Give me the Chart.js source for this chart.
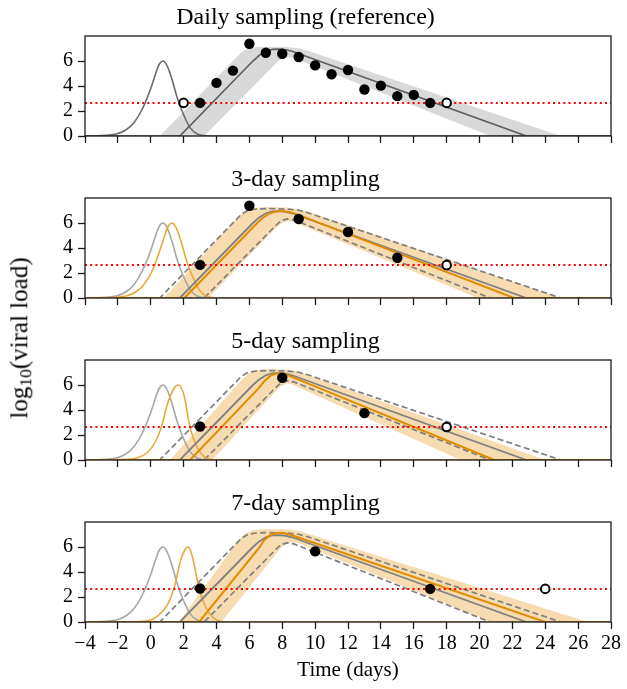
<!DOCTYPE html>
<html>
<head>
<meta charset="utf-8">
<script src="https://cdn.jsdelivr.net/npm/chart.js@4.4.1/dist/chart.umd.min.js"></script>
<style>
  body { margin: 0; background: #fff; }
  #wrap { position: relative; width: 627px; height: 689px; font-family: 'Liberation Serif', serif; }
  canvas { position: absolute; left: 0; }
  #ylab { position: absolute; left: 21px; top: 338px; transform: translate(-50%, -50%) rotate(-90deg);
          font-size: 25px; white-space: nowrap; color: #000; }
  #ylab sub { font-size: 0.7em; vertical-align: -0.25em; }
</style>
</head>
<body>
<div id="wrap">
  <canvas id="p1" width="627" height="146" style="top:0px"></canvas>
  <canvas id="p2" width="627" height="146" style="top:162px"></canvas>
  <canvas id="p3" width="627" height="146" style="top:324px"></canvas>
  <canvas id="p4" width="627" height="203" style="top:486px"></canvas>
  <div id="ylab">log<sub>10</sub>(viral load)</div>
</div>
<script>
const FONT = "'Liberation Serif', 'Times New Roman', serif";

const titles = ['Daily sampling (reference)', '3-day sampling', '5-day sampling', '7-day sampling'];
const xTicks = [-4, -2, 0, 2, 4, 6, 8, 10, 12, 14, 16, 18, 20, 22, 24, 26, 28];
const yTicks = [0, 2, 4, 6];
const LOD = 2.65;

// observed samples
const filledDays1 = [3, 4, 5, 6, 7, 8, 9, 10, 11, 12, 13, 14, 15, 16, 17];
const filledVals1 = [2.65, 4.25, 5.23, 7.38, 6.66, 6.58, 6.32, 5.65, 4.94, 5.28, 3.72, 4.03, 3.19, 3.29, 2.65];
const openDays1 = [2, 18];
const openVals1 = [2.65, 2.65];
const filledDays2 = [3, 6, 9, 12, 15];
const filledVals2 = [2.65, 7.38, 6.32, 5.28, 3.22];
const openDays2 = [18];
const openVals2 = [2.63];
const filledDays3 = [3, 8, 13];
const filledVals3 = [2.68, 6.58, 3.75];
const openDays3 = [18];
const openVals3 = [2.64];
const filledDays4 = [3, 10, 17];
const filledVals4 = [2.68, 5.65, 2.65];
const openDays4 = [24];
const openVals4 = [2.65];

// reference fit (daily sampling)
const refIncDays = [-4, -3, -2.5, -2, -1.5, -1, -0.5, 0, 0.3, 0.5, 0.75, 1.0, 1.3, 1.6, 2.0, 2.4, 2.8, 3.2, 3.6, 28];
const refIncVals = [0, 0.03, 0.08, 0.2, 0.5, 1.1, 2.2, 3.8, 5.0, 5.7, 6.0, 5.6, 4.5, 3.1, 1.7, 0.65, 0.18, 0.03, 0, 0];
const refLineDays = [-4, 1.77, 6.2, 6.6, 7.0, 7.4, 7.8, 8.2, 8.6, 22.85, 28];
const refLineVals = [0, 0, 5.98, 6.45, 6.78, 6.93, 6.95, 6.9, 6.78, 0, 0];
const refHiDays = [-4, 0.55, 5.5, 5.9, 6.4, 7.2, 8.2, 9.0, 9.6, 24.95, 28];
const refHiVals = [0, 0, 6.68, 7.0, 7.12, 7.15, 7.12, 7.02, 6.8, 0, 0];
const refLoDays = [-4, 3.25, 7.6, 7.95, 8.3, 8.7, 20.65, 28];
const refLoVals = [0, 0, 5.79, 6.2, 6.33, 6.25, 0, 0];

// 3-day fit
const inc2Days = [-4, -2.4, -1.9, -1.4, -0.9, -0.4, 0.1, 0.55, 0.85, 1.05, 1.3, 1.55, 1.85, 2.15, 2.55, 2.95, 3.35, 3.75, 4.15, 28];
const inc2Vals = [0, 0.03, 0.08, 0.2, 0.5, 1.1, 2.2, 3.8, 5.0, 5.7, 6.0, 5.6, 4.5, 3.1, 1.7, 0.65, 0.18, 0.03, 0, 0];
const line2Days = [-4, 2.05, 6.4, 6.8, 7.2, 7.6, 8.0, 8.4, 8.8, 22.1, 28];
const line2Vals = [0, 0, 5.9, 6.4, 6.75, 6.92, 6.95, 6.88, 6.75, 0, 0];
const hi2Days = [-4, 0.8, 5.4, 5.8, 6.3, 7.2, 8.2, 9.0, 9.6, 24.9, 28];
const hi2Vals = [0, 0, 6.6, 7.0, 7.2, 7.28, 7.25, 7.12, 6.9, 0, 0];
const lo2Days = [-4, 3.5, 7.6, 8.0, 8.35, 8.7, 19.9, 28];
const lo2Vals = [0, 0, 5.6, 6.0, 6.15, 6.08, 0, 0];

// 5-day fit
const inc3Days = [-4, -2, -0.8, -0.2, 0.3, 0.65, 1.0, 1.4, 1.68, 2.02, 2.38, 2.83, 3.23, 3.74, 28];
const inc3Vals = [0, 0.03, 0.18, 0.6, 1.5, 2.65, 4.4, 5.7, 6.0, 5.2, 2.65, 1.0, 0.3, 0.02, 0];
const line3Days = [-4, 2.39, 6.5, 6.9, 7.3, 7.7, 8.0, 8.4, 20.9, 28];
const line3Vals = [0, 0, 5.65, 6.3, 6.75, 6.93, 6.92, 6.75, 0, 0];
const hi3Days = [-4, 1.17, 5.6, 6.0, 6.5, 7.3, 8.2, 8.9, 9.5, 24.0, 28];
const hi3Vals = [0, 0, 6.5, 6.95, 7.2, 7.3, 7.25, 7.1, 6.85, 0, 0];
const lo3Days = [-4, 3.74, 7.6, 7.95, 8.3, 8.6, 18.85, 28];
const lo3Vals = [0, 0, 5.5, 5.95, 6.15, 6.05, 0, 0];

// 7-day fit
const inc4Days = [-4, -1, 0, 0.5, 1.0, 1.41, 1.82, 2.05, 2.26, 2.45, 2.63, 2.93, 3.33, 3.74, 4.24, 4.65, 28];
const inc4Vals = [0, 0.02, 0.16, 0.56, 1.35, 2.68, 4.93, 5.7, 6.0, 5.6, 4.67, 2.68, 1.22, 0.42, 0.05, 0, 0];
const line4Days = [-4, 2.94, 6.6, 6.9, 7.3, 7.7, 8.1, 8.5, 24.0, 28];
const line4Vals = [0, 0, 5.95, 6.55, 6.98, 7.13, 7.12, 6.98, 0, 0];
const hi4Days = [-4, 1.72, 5.3, 5.7, 6.2, 7.0, 8.2, 9.0, 9.6, 26.6, 28];
const hi4Vals = [0, 0, 6.5, 7.05, 7.35, 7.45, 7.42, 7.28, 7.05, 0, 0];
const lo4Days = [-4, 4.3, 7.9, 8.3, 8.6, 9.0, 20.7, 28];
const lo4Vals = [0, 0, 5.9, 6.3, 6.38, 6.3, 0, 0];

const xy = (ds, vs) => ds.map((d, i) => ({ x: d, y: vs[i] }));

function curve(data, color, width, order, extra) {
  return Object.assign({ data, borderColor: color, backgroundColor: color, borderWidth: width,
    pointRadius: 0, fill: false, tension: 0, order }, extra || {});
}
function lodLine() {
  return curve(xy([-4, 28], [LOD, LOD]), '#ff0000', 2, 2, { borderDash: [2, 3.2] });
}
function dots(fd, fv, od, ov) {
  return [
    { data: xy(fd, fv), showLine: false, pointRadius: 5.2, pointBackgroundColor: '#000',
      pointBorderColor: '#000', pointBorderWidth: 0, order: 1, clip: false },
    { data: xy(od, ov), showLine: false, pointRadius: 4.3, pointBackgroundColor: '#fff',
      pointBorderColor: '#000', pointBorderWidth: 2, order: 0, clip: false }
  ];
}
function band(loD, loV, hiD, hiV, color) {
  return [
    curve(xy(loD, loV), 'rgba(0,0,0,0)', 0, 11),
    curve(xy(hiD, hiV), 'rgba(0,0,0,0)', 0, 10, { fill: '-1', backgroundColor: color })
  ];
}

const mono = { cubicInterpolationMode: 'monotone' };
const ORANGE = '#e08b00';
const ORANGE_INC = '#e9a73c';
const BANDO = '#f6dcb0';

function fitDatasets(incD, incV, lineD, lineV, hiD, hiV, loD, loV, fd, fv, od, ov) {
  return [
    ...band(loD, loV, hiD, hiV, BANDO),
    curve(xy(refHiDays, refHiVals), '#7f7f7f', 1.7, 8, { borderDash: [6, 3.2] }),
    curve(xy(refLoDays, refLoVals), '#7f7f7f', 1.7, 8, { borderDash: [6, 3.2] }),
    curve(xy(refIncDays, refIncVals), '#a6a6a6', 1.6, 7, mono),
    curve(xy(incD, incV), ORANGE_INC, 1.6, 6, mono),
    curve(xy(refLineDays, refLineVals), '#808080', 1.8, 5),
    curve(xy(lineD, lineV), ORANGE, 2, 4),
    lodLine(),
    ...dots(fd, fv, od, ov)
  ];
}

const panels = [
  [
    ...band(refLoDays, refLoVals, refHiDays, refHiVals, '#d9d9d9'),
    curve(xy(refIncDays, refIncVals), '#6b6b6b', 1.6, 7, mono),
    curve(xy(refLineDays, refLineVals), '#5e5e5e', 1.7, 5),
    lodLine(),
    ...dots(filledDays1, filledVals1, openDays1, openVals1)
  ],
  fitDatasets(inc2Days, inc2Vals, line2Days, line2Vals, hi2Days, hi2Vals, lo2Days, lo2Vals,
    filledDays2, filledVals2, openDays2, openVals2),
  fitDatasets(inc3Days, inc3Vals, line3Days, line3Vals, hi3Days, hi3Vals, lo3Days, lo3Vals,
    filledDays3, filledVals3, openDays3, openVals3),
  fitDatasets(inc4Days, inc4Vals, line4Days, line4Vals, hi4Days, hi4Vals, lo4Days, lo4Vals,
    filledDays4, filledVals4, openDays4, openVals4)
];

const framePlugin = {
  id: 'frame',
  afterDatasetsDraw(chart) {
    const { ctx, chartArea: a } = chart;
    ctx.save();
    ctx.strokeStyle = '#1a1a1a';
    ctx.lineWidth = 1.3;
    ctx.strokeRect(a.left, a.top, a.right - a.left, a.bottom - a.top);
    ctx.restore();
  }
};

panels.forEach((datasets, i) => {
  const last = i === 3;
  new Chart(document.getElementById('p' + (i + 1)), {
    type: 'line',
    data: { datasets },
    options: {
      responsive: false,
      animation: false,
      devicePixelRatio: 1,
      layout: { padding: { left: 0, right: 16, top: 0, bottom: 0 } },
      plugins: {
        legend: { display: false },
        tooltip: { enabled: false },
        title: {
          display: true, text: titles[i], color: '#000',
          font: { family: FONT, size: 24, weight: 'normal' },
          padding: { top: 3.5, bottom: 3.7 }
        }
      },
      scales: {
        x: {
          type: 'linear', min: -4, max: 28,
          afterBuildTicks: s => { s.ticks = xTicks.map(v => ({ value: v })); },
          ticks: {
            display: last, color: '#000', padding: 2.5, maxRotation: 0, autoSkip: false,
            font: { family: FONT, size: 20 },
            callback: v => String(v).replace('-', '\u2212')
          },
          grid: { drawOnChartArea: false, drawTicks: true, tickLength: 7, tickWidth: 1.3, tickColor: '#1a1a1a' },
          border: { display: false },
          title: {
            display: last, text: 'Time (days)', color: '#000',
            font: { family: FONT, size: 21 }, padding: { top: 0, bottom: 6 }
          },
          afterFit: s => { s.height = last ? 67 : 10; s.paddingLeft = 0; s.paddingRight = 0; }
        },
        y: {
          min: 0, max: 8,
          afterBuildTicks: s => { s.ticks = yTicks.map(v => ({ value: v })); },
          ticks: { color: '#000', padding: 5, font: { family: FONT, size: 20 } },
          grid: { drawOnChartArea: false, drawTicks: true, tickLength: 7, tickWidth: 1.3, tickColor: '#1a1a1a' },
          border: { display: false },
          afterFit: s => { s.width = 85; s.paddingTop = 0; s.paddingBottom = 0; }
        }
      }
    },
    plugins: [framePlugin]
  });
});
</script>
</body>
</html>
